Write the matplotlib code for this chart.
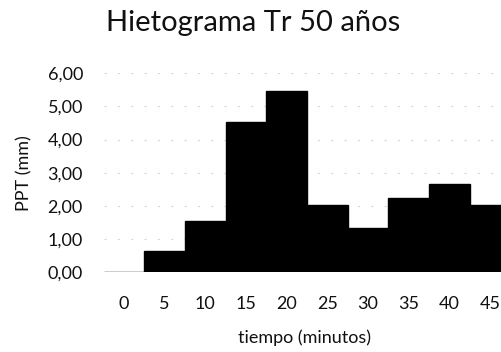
import matplotlib.pyplot as plt

# hietograma, intervalos de 5 minutos
tiempo = [0, 5, 10, 15, 20, 25, 30, 35, 40, 45]
ppt = [0.00, 0.63, 1.55, 4.53, 5.46, 2.01, 1.32, 2.24, 2.67, 2.01]
yticks = [0, 1, 2, 3, 4, 5, 6]

plt.rcParams['font.family'] = ['Lato', 'DejaVu Sans']

fig = plt.figure(figsize=(5.02, 3.52), dpi=100)
ax = fig.add_axes([0.2066, 0.227, 0.81, 0.565])

pos = list(range(len(tiempo)))
ax.bar(pos, ppt, width=1.0, color='black', edgecolor='black', zorder=2)

ax.set_xlim(-0.5, len(tiempo) - 0.5)
ax.set_ylim(0, 6)
ax.set_xticks(pos)
ax.set_xticklabels([str(t) for t in tiempo])
ax.set_yticks(yticks)
ax.set_yticklabels([('%.2f' % v).replace('.', ',') for v in yticks])

ax.grid(axis='y', color='#d8d8d8', linestyle=(0, (2, 10)), linewidth=0.8, zorder=0)
for s in ax.spines.values():
    s.set_visible(False)
ax.tick_params(length=0, labelsize=13, colors='#111111')
ax.tick_params(axis='x', pad=17)
ax.tick_params(axis='y', pad=15)

ax.set_xlabel('tiempo (minutos)', fontsize=13, color='#111111', va='center')
ax.xaxis.set_label_coords(0.495, -0.33)
ax.set_ylabel('PPT (mm)', fontsize=13, color='#111111', va='center')
ax.yaxis.set_label_coords(-0.196, 0.5)

fig.text(0.505, 0.935, 'Hietograma Tr 50 años', ha='center', va='center',
         fontsize=21, color='#111111')

fig.savefig('out.png', dpi=100)
